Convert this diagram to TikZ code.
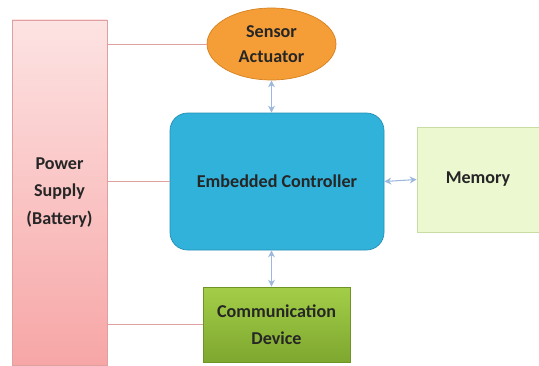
\documentclass[tikz,border=0pt]{standalone}
\usepackage{fontspec}
\setmainfont{Carlito}
\usetikzlibrary{shapes.geometric,arrows.meta}

\definecolor{pinktop}{HTML}{FDE3E3}
\definecolor{pinkbot}{HTML}{F7A6A6}
\definecolor{pinkline}{HTML}{DFA0A0}
\definecolor{orangefill}{HTML}{F59E38}
\definecolor{orangeline}{HTML}{D4801E}
\definecolor{ctrlblue}{HTML}{30B2DB}
\definecolor{ctrlline}{HTML}{2590B4}
\definecolor{memfill}{HTML}{EBF8D0}
\definecolor{memline}{HTML}{C9DDA3}
\definecolor{commtop}{HTML}{A3CE48}
\definecolor{commbot}{HTML}{7EA72F}
\definecolor{commline}{HTML}{6E9426}
\definecolor{linkblue}{HTML}{9DB8DC}

\tikzset{
    blocktext/.style={font=\fontsize{10.3}{13}\selectfont\bfseries, align=center, text=black!85},
    powerlink/.style={pinkline, line width=0.5pt},
    datalink/.style={linkblue, line width=0.6pt, {Stealth[length=4pt,width=4pt]}-{Stealth[length=4pt,width=4pt]}}
}

\begin{document}
\begin{tikzpicture}

    \useasboundingbox (0,0) rectangle (10.78,7.3);

    % Power supply on the left
    \node[blocktext, draw=pinkline, top color=pinktop, bottom color=pinkbot,
          minimum width=1.9cm, minimum height=6.9cm] (power) at (1.19, 3.45) {Power\\[2.5pt] Supply\\[2.5pt] (Battery)};

    % Blocks
    \node[blocktext, ellipse, draw=orangeline, fill=orangefill,
          minimum width=2.58cm, minimum height=1.44cm, inner sep=0pt] (sensor) at (5.43, 6.42) {Sensor\\[1pt] Actuator};
    \node[blocktext, draw=ctrlline, fill=ctrlblue, rounded corners=10pt,
          minimum width=4.28cm, minimum height=2.74cm] (ctrl) at (5.54, 3.67) {Embedded Controller};
    \node[blocktext, draw=memline, fill=memfill,
          minimum width=2.44cm, minimum height=2.1cm] (memory) at (9.56, 3.71) {Memory};
    \node[blocktext, draw=commline, top color=commtop, bottom color=commbot,
          minimum width=2.94cm, minimum height=1.5cm] (comm) at (5.53, 0.81) {Communication\\[2.5pt] Device};

    % Supply lines
    \draw[powerlink] (sensor.west) -- (sensor.west -| power.east);
    \draw[powerlink] (ctrl.west) -- (ctrl.west -| power.east);
    \draw[powerlink] (comm.west) -- (comm.west -| power.east);

    % Data links
    \draw[datalink] (sensor.south) -- (sensor.south |- ctrl.north);
    \draw[datalink] (ctrl.east) -- (memory.west);
    \draw[datalink] (sensor.south |- ctrl.south) -- (sensor.south |- comm.north);

\end{tikzpicture}
\end{document}
